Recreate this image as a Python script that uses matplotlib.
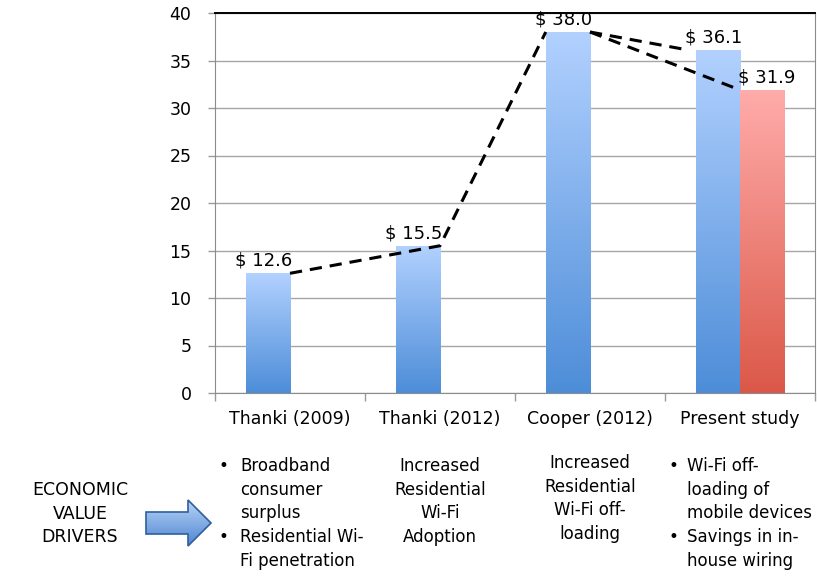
import numpy as np
import matplotlib.pyplot as plt
from matplotlib.patches import Polygon
from matplotlib.colors import LinearSegmentedColormap

studies = ["Thanki (2009)", "Thanki (2012)", "Cooper (2012)", "Present study"]
blue_vals = [12.6, 15.5, 38.0, 36.1]
red_idx = [3]
red_vals = [31.9]
yticks = [0, 5, 10, 15, 20, 25, 30, 35, 40]

blue_cm = LinearSegmentedColormap.from_list("b", ["#4d8dd8", "#b2d1ff"])
red_cm = LinearSegmentedColormap.from_list("r", ["#db5848", "#ffacaa"])


def grad_fill(ax, bars, cmap):
    g = np.linspace(0, 1, 256).reshape(-1, 1)
    for b in bars:
        x0, y0 = b.get_x(), b.get_y()
        im = ax.imshow(g, extent=[x0, x0 + b.get_width(), y0, y0 + b.get_height()],
                       origin="lower", cmap=cmap, aspect="auto", zorder=2)
        im.set_clip_path(b)


fig = plt.figure(figsize=(8.17, 5.83), dpi=100)
ax = fig.add_axes([215 / 817, 1 - 393 / 583, 600 / 817, 380 / 583])

x = np.arange(len(studies))
w = 0.295
bb = ax.bar(x - w / 2, blue_vals, w, color="none", edgecolor="none", zorder=2)
rb = ax.bar(x[red_idx] + w / 2, red_vals, w, color="none", edgecolor="none", zorder=2)
grad_fill(ax, bb, blue_cm)
grad_fill(ax, rb, red_cm)

# dashed trend lines between the studies
ls = dict(color="black", lw=2.2, ls=(0, (4, 2.6)), zorder=4)
ax.plot([x[0], x[1], x[2] - w], blue_vals[:3], **ls)
ax.plot([x[2], x[3] - w - 0.05], [blue_vals[2], blue_vals[3]], **ls)
ax.plot([x[2], x[3]], [blue_vals[2], red_vals[0]], **ls)

for xi, v in zip(x - w / 2, blue_vals):
    ax.text(xi - 0.03, v + 0.35, f"$ {v:.1f}", ha="center", va="bottom", fontsize=13, zorder=5)
for xi, v in zip(x[red_idx] + w / 2, red_vals):
    ax.text(xi + 0.03, v + 0.35, f"$ {v:.1f}", ha="center", va="bottom", fontsize=13, zorder=5)

ax.set_xlim(-0.5, 3.5)
ax.set_ylim(0, 40)
ax.set_yticks(yticks)
ax.tick_params(axis="y", labelsize=12.5, color="#999999", length=5, width=1, pad=12)
ax.yaxis.grid(True, color="#a6a6a6", lw=1)
ax.set_axisbelow(True)
ax.set_xticks(x, studies)
ax.set_xticks(np.arange(-0.5, 4, 1), minor=True)
ax.tick_params(axis="x", which="major", length=0, pad=12, labelsize=12.5)
ax.tick_params(axis="x", which="minor", length=6, color="#999999", width=1)
for s in ["left", "bottom", "right"]:
    ax.spines[s].set_color("#8c8c8c")
ax.spines["top"].set_color("black")
ax.spines["top"].set_linewidth(1.4)

# bottom annotation area in pixel coordinates
ov = fig.add_axes([0, 0, 1, 1], zorder=-1)
ov.set_xlim(0, 817)
ov.set_ylim(583, 0)
ov.axis("off")

fs = 12
for i, t in enumerate(["ECONOMIC", "VALUE", "DRIVERS"]):
    ov.text(80, 490 + i * 23.7, t, ha="center", va="center", fontsize=12.5)

arrow = Polygon([(146, 512), (188, 512), (188, 500), (211, 523), (188, 546), (188, 534), (146, 534)],
                closed=True, fc="none", ec="#2f5f9e", lw=1.2, zorder=3)
ov.add_patch(arrow)
ag = ov.imshow(np.linspace(0, 1, 64).reshape(-1, 1), extent=[146, 211, 546, 500],
               cmap=LinearSegmentedColormap.from_list("a", ["#b8d4f6", "#4f86d2"]),
               aspect="auto", zorder=2)
ag.set_clip_path(arrow)
ov.set_xlim(0, 817)
ov.set_ylim(583, 0)

col1 = [("•", "Broadband"), ("", "consumer"), ("", "surplus"), ("•", "Residential Wi-"), ("", "Fi penetration")]
col2 = ["Increased", "Residential", "Wi-Fi", "Adoption"]
col3 = ["Increased", "Residential", "Wi-Fi off-", "loading"]
col4 = [("•", "Wi-Fi off-"), ("", "loading of"), ("", "mobile devices"), ("•", "Savings in in-"), ("", "house wiring")]

lh = 23.7
for i, (b, t) in enumerate(col1):
    ov.text(223, 466 + i * lh, b, ha="center", va="center", fontsize=fs)
    ov.text(240, 466 + i * lh, t, ha="left", va="center", fontsize=fs)
for i, t in enumerate(col2):
    ov.text(440, 466 + i * lh, t, ha="center", va="center", fontsize=fs)
for i, t in enumerate(col3):
    ov.text(590, 463 + i * lh, t, ha="center", va="center", fontsize=fs)
for i, (b, t) in enumerate(col4):
    ov.text(673, 466 + i * lh, b, ha="center", va="center", fontsize=fs)
    ov.text(687, 466 + i * lh, t, ha="left", va="center", fontsize=fs)

fig.savefig("out.png", dpi=100)
